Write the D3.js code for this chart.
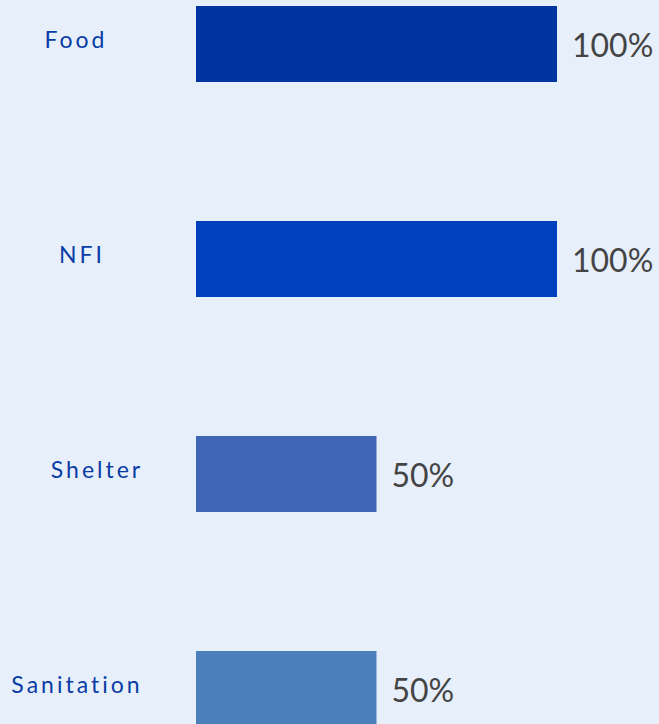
<!DOCTYPE html>
<html><head><meta charset="utf-8">
<script src="https://cdn.jsdelivr.net/npm/d3@7"></script>
<style>
html,body{margin:0;padding:0;background:#e7effb;}
svg{display:block;}
</style></head>
<body>
<svg id="chart" width="659" height="724"></svg>
<script>
const categories = ["Food", "NFI", "Shelter", "Sanitation"];
const values = [100, 100, 50, 50];
const colors = ["#0034a0", "#0040bd", "#4066b8", "#4b80bd"];
const labelCenters = [76, 82, 97, 77];

const W = 659, H = 724;
const svg = d3.select("#chart");
svg.append("rect").attr("width", W).attr("height", H).attr("fill", "#e7effb");

const x = d3.scaleLinear().domain([0, 100]).range([196, 557]);
const y = d3.scaleBand().domain(categories).range([6, 727]).paddingInner(139/215).paddingOuter(0);

const g = svg.append("g");
categories.forEach((c, i) => {
  const y0 = y(c), bh = y.bandwidth(), cy = y0 + bh / 2;
  g.append("rect").attr("x", x(0)).attr("y", y0).attr("width", x(values[i]) - x(0)).attr("height", bh).attr("fill", colors[i]);
  g.append("text").attr("x", labelCenters[i]).attr("y", cy + 4).attr("text-anchor", "middle")
    .attr("font-family", "Lato, 'Open Sans', sans-serif").attr("font-size", 23).attr("letter-spacing", 3)
    .attr("fill", "#0a3ca6").text(c);
  g.append("text").attr("x", x(values[i]) + 15).attr("y", cy + 13)
    .attr("font-family", "Lato, 'Open Sans', sans-serif").attr("font-size", 32)
    .attr("fill", "#444444").text(values[i] + "%");
});
</script>
</body></html>
